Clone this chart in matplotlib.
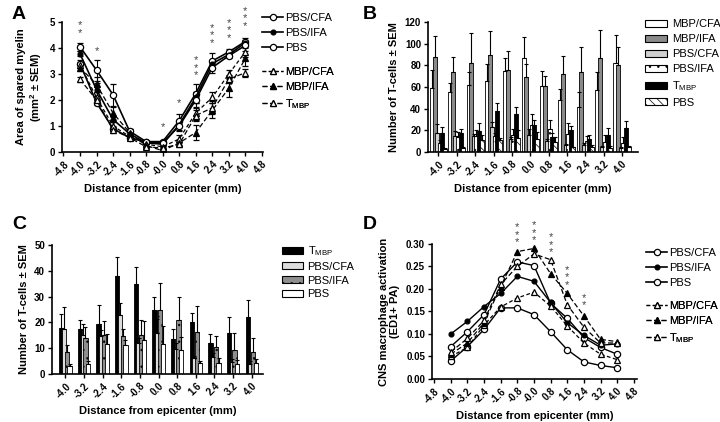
import numpy as np
import matplotlib
matplotlib.use('Agg')
import matplotlib.pyplot as plt
from matplotlib.lines import Line2D
from matplotlib.patches import Patch

plt.rcParams['font.family'] = ['Liberation Sans', 'DejaVu Sans']
plt.rcParams['mathtext.fontset'] = 'custom'
plt.rcParams['mathtext.rm'] = 'Liberation Sans'
plt.rcParams['mathtext.bf'] = 'Liberation Sans:bold'
plt.rcParams['hatch.linewidth'] = 0.5

# distances along the cord (mm)
distance = [-4.0, -3.2, -2.4, -1.6, -0.8, 0.0, 0.8, 1.6, 2.4, 3.2, 4.0]
bar_labels = ['-4.0', '-3.2', '-2.4', '-1.6', '-0.8', '0.0', '0.8', '1.6', '2.4', '3.2', '4.0']
line_ticks = [-4.8, -4.0, -3.2, -2.4, -1.6, -0.8, 0.0, 0.8, 1.6, 2.4, 3.2, 4.0, 4.8]
line_labels = ['-4.8', '-4.0', '-3.2', '-2.4', '-1.6', '-0.8', '-0.0', '0.8', '1.6', '2.4', '3.2', '4.0', '4.8']

# A: spared myelin (mm2)
my_pbs_cfa = [4.05, 3.15, 2.2, 0.8, 0.4, 0.4, 1.2, 2.25, 3.5, 3.85, 4.25]
my_pbs_cfa_err = [0.15, 0.4, 0.42, 0.1, 0.05, 0.05, 0.25, 0.35, 0.3, 0.1, 0.15]
my_pbs_ifa = [3.78, 2.4, 1.25, 0.7, 0.35, 0.3, 1.05, 2.1, 3.4, 3.75, 4.2]
my_pbs_ifa_err = [0.1, 0.25, 0.1, 0.1, 0.05, 0.05, 0.2, 0.2, 0.15, 0.1, 0.1]
my_pbs = [3.4, 1.9, 0.9, 0.55, 0.38, 0.35, 1.0, 2.0, 3.25, 3.7, 4.1]
my_pbs_err = [0.15, 0.1, 0.1, 0.08, 0.05, 0.05, 0.2, 0.3, 0.2, 0.1, 0.1]
my_mbp_cfa = [3.35, 2.1, 1.0, 0.6, 0.3, 0.2, 0.5, 1.5, 2.1, 3.0, 3.85]
my_mbp_cfa_err = [0.1, 0.2, 0.2, 0.1, 0.05, 0.05, 0.15, 0.25, 0.2, 0.15, 0.2]
my_mbp_ifa = [3.25, 2.6, 1.5, 0.75, 0.25, 0.05, 0.35, 0.75, 1.6, 2.45, 3.6]
my_mbp_ifa_err = [0.15, 0.3, 0.25, 0.15, 0.05, 0.05, 0.1, 0.3, 0.3, 0.35, 0.3]
my_tmbp = [2.8, 2.0, 0.85, 0.55, 0.2, 0.15, 0.3, 1.4, 1.7, 2.8, 3.05]
my_tmbp_err = [0.1, 0.15, 0.1, 0.1, 0.05, 0.05, 0.1, 0.2, 0.25, 0.15, 0.15]
a_star_x = [-4.0, -3.2, 0.0, 0.8, 1.6, 2.4, 3.2, 4.0]
a_star_n = [2, 1, 1, 1, 3, 3, 3, 3]
a_star_y = [4.4, 3.7, 0.75, 1.7, 2.75, 4.0, 4.2, 4.65]

# B/C: T-cell counts
tc_mbp_cfa = [59, 55, 62, 66, 75, 87, 61, 48, 42, 57, 82]
tc_mbp_cfa_err = [17, 9, 12, 15, 12, 19, 14, 10, 13, 17, 26]
tc_mbp_ifa = [88, 73.5, 82, 90, 76, 69, 61, 72, 74, 87, 80]
tc_mbp_ifa_err = [19, 14.5, 28, 22, 17, 12, 9, 17, 23, 26, 17]
tc_tmbp = [18, 17.3, 19.4, 38, 35, 24.7, 13.7, 20.2, 12, 15.9, 22.2]
tc_tmbp_err = [5.3, 3.7, 7.2, 7.3, 6.5, 5, 3.8, 3.5, 3.5, 6.3, 6.3]
tc_pbs_cfa = [17.5, 15, 14.8, 22.8, 12, 16, 9.8, 6.3, 6.5, 4.5, 4]
tc_pbs_cfa_err = [8.5, 4.5, 2.2, 4.7, 2, 5.3, 2.2, 0.7, 1.5, 1.3, 1]
tc_pbs_ifa = [8.5, 14, 15, 14.7, 15.3, 25, 21, 16.3, 10.5, 9.5, 8.5]
tc_pbs_ifa_err = [2.8, 4.2, 5.5, 2.9, 5.7, 10.3, 9, 10.1, 4.3, 6.4, 5.5]
tc_pbs = [3, 3.7, 11.5, 11.3, 13.3, 11.7, 9.3, 4.3, 4.2, 3.7, 4.3]
tc_pbs_err = [1, 1.3, 4, 1.7, 7.2, 6.9, 5, 0.7, 2, 1.9, 1.7]

# D: macrophage activation
ma_pbs_cfa = [0.072, 0.105, 0.143, 0.222, 0.26, 0.252, 0.168, 0.135, 0.092, 0.07, 0.055]
ma_pbs_ifa = [0.10, 0.128, 0.161, 0.19, 0.228, 0.217, 0.17, 0.125, 0.097, 0.075, 0.078]
ma_pbs = [0.04, 0.072, 0.11, 0.158, 0.158, 0.143, 0.105, 0.065, 0.038, 0.03, 0.025]
ma_mbp_cfa = [0.05, 0.07, 0.12, 0.16, 0.18, 0.193, 0.162, 0.118, 0.08, 0.055, 0.043]
ma_mbp_ifa = [0.055, 0.08, 0.125, 0.205, 0.283, 0.29, 0.234, 0.19, 0.14, 0.088, 0.083]
ma_tmbp = [0.06, 0.09, 0.13, 0.21, 0.25, 0.278, 0.265, 0.165, 0.115, 0.08, 0.08]
d_star_x = [-0.8, 0.0, 0.8, 1.6, 2.4]
d_star_n = [3, 3, 3, 3, 2]
d_star_y = [0.292, 0.297, 0.27, 0.198, 0.152]

TMBP = 'T$_{\\mathrm{MBP}}$'

line_styles = {
    'PBS/CFA': dict(ls='-', marker='o', mfc='white', ms=4.5),
    'PBS/IFA': dict(ls='-', marker='o', mfc='black', ms=3.5),
    'PBS': dict(ls='-', marker='o', mfc='white', ms=4.5),
    'MBP/CFA': dict(ls=(0, (3, 2)), marker='^', mfc='white', ms=5),
    'MBP/IFA': dict(ls=(0, (4, 2)), marker='^', mfc='black', ms=4),
    TMBP: dict(ls=(0, (4, 2)), marker='^', mfc='white', ms=5),
}

fig = plt.figure(figsize=(7.2, 4.22), dpi=100)
axA = fig.add_axes([0.0861, 0.6398, 0.279, 0.308])
axB = fig.add_axes([0.5944, 0.6398, 0.2917, 0.308])
axC = fig.add_axes([0.0722, 0.1137, 0.293, 0.3057])
axD = fig.add_axes([0.600, 0.1019, 0.2847, 0.320])


def style(ax):
    for s in ['top', 'right']:
        ax.spines[s].set_visible(False)
    for s in ['left', 'bottom']:
        ax.spines[s].set_linewidth(1.2)
    ax.tick_params(direction='out', length=3, width=1, labelsize=7, pad=2)
    for lab in ax.get_xticklabels() + ax.get_yticklabels():
        lab.set_fontweight('bold')
    for lab in ax.get_xticklabels():
        lab.set_rotation(45)
        lab.set_ha('right')
        lab.set_rotation_mode('anchor')
    ax.set_xlabel('Distance from epicenter (mm)', fontsize=8, fontweight='bold')


def stars(ax, xs, ns, ys):
    for x, n, y in zip(xs, ns, ys):
        ax.text(x, y, '\n'.join(['*'] * n), ha='center', va='bottom', fontsize=8,
                color='#444444', linespacing=0.7, clip_on=False)


# ---- A
a_series = [('PBS/CFA', my_pbs_cfa, my_pbs_cfa_err), ('PBS/IFA', my_pbs_ifa, my_pbs_ifa_err),
            ('PBS', my_pbs, my_pbs_err), ('MBP/CFA', my_mbp_cfa, my_mbp_cfa_err),
            ('MBP/IFA', my_mbp_ifa, my_mbp_ifa_err), (TMBP, my_tmbp, my_tmbp_err)]
for name, y, e in a_series:
    st = line_styles[name]
    lw = 1.2 if st['ls'] == '-' else 0.9
    axA.errorbar(distance, y, yerr=e, color='black', lw=lw, ls=st['ls'], marker=st['marker'],
                 mfc=st['mfc'], mec='black', ms=st['ms'], mew=0.9, capsize=2, elinewidth=0.8,
                 capthick=0.8)
axA.set_xlim(-4.87, 4.85)
axA.set_ylim(0, 5)
axA.set_xticks(line_ticks)
axA.set_xticklabels(line_labels)
axA.set_yticks([0, 1, 2, 3, 4, 5])
axA.set_ylabel('Area of spared myelin\n(mm$^\\mathbf{2}$ ± SEM)', fontsize=8, fontweight='bold')
style(axA)
stars(axA, a_star_x, a_star_n, a_star_y)


def line_handles(names):
    hs = []
    for n in names:
        st = line_styles[n]
        lw = 1.2 if st['ls'] == '-' else 0.9
        hs.append(Line2D([], [], color='black', lw=lw, ls=st['ls'], marker=st['marker'],
                         mfc=st['mfc'], mec='black', ms=st['ms'], mew=0.9))
    return hs


def line_legend(ax, names, x, y):
    leg = ax.legend(line_handles(names), names, loc='upper left', bbox_to_anchor=(x, y),
                    bbox_transform=fig.transFigure, frameon=False, fontsize=8, handlelength=1.9,
                    handletextpad=0.2, labelspacing=0.45, borderpad=0, borderaxespad=0)
    ax.add_artist(leg)


line_legend(axA, ['PBS/CFA', 'PBS/IFA', 'PBS'], 262 / 720, 1 - 13 / 422)
line_legend(axA, ['MBP/CFA', 'MBP/IFA', TMBP], 262 / 720, 1 - 67 / 422)

# ---- B
pos = np.arange(len(distance))
b_series = [('MBP/CFA', tc_mbp_cfa, tc_mbp_cfa_err, dict(color='white')),
            ('MBP/IFA', tc_mbp_ifa, tc_mbp_ifa_err, dict(color='#8a8a8a')),
            ('PBS/CFA', tc_pbs_cfa, tc_pbs_cfa_err, dict(color='#cfcfcf')),
            ('PBS/IFA', tc_pbs_ifa, tc_pbs_ifa_err, dict(color='white', hatch='..')),
            (TMBP, tc_tmbp, tc_tmbp_err, dict(color='black')),
            ('PBS', tc_pbs, tc_pbs_err, dict(color='white', hatch='\\\\\\\\'))]
step, width = 0.142, 0.22
b_handles = []
for k, (name, v, e, kw) in enumerate(b_series):
    off = (k - (len(b_series) - 1) / 2) * step
    axB.bar(pos + off, v, width, yerr=[np.zeros(len(v)), e], edgecolor='black', linewidth=0.6,
            error_kw=dict(elinewidth=0.8, capsize=1.2, capthick=0.8, ecolor='black'), **kw)
    b_handles.append(Patch(facecolor=kw['color'], edgecolor='black', linewidth=0.8,
                           hatch=kw.get('hatch')))
axB.set_xlim(-0.57, 10.87)
axB.set_ylim(0, 120)
axB.set_yticks(range(0, 121, 20))
axB.set_xticks(pos)
axB.set_xticklabels(bar_labels)
axB.set_ylabel('Number of T-cells ± SEM', fontsize=8, fontweight='bold')
style(axB)
axB.legend(b_handles, [s[0] for s in b_series], loc='upper left', bbox_to_anchor=(645 / 720, 1 - 19 / 422),
           bbox_transform=fig.transFigure, frameon=False, fontsize=8, handlelength=2.0,
           handleheight=0.6, handletextpad=0.4, labelspacing=0.45, borderpad=0, borderaxespad=0)

# ---- C
c_series = [(TMBP, tc_tmbp, tc_tmbp_err, dict(color='black')),
            ('PBS/CFA', tc_pbs_cfa, tc_pbs_cfa_err, dict(color='#dcdcdc')),
            ('PBS/IFA', tc_pbs_ifa, tc_pbs_ifa_err, dict(color='#8e8e8e', hatch='..')),
            ('PBS', tc_pbs, tc_pbs_err, dict(color='white'))]
step, width = 0.147, 0.23
c_handles = []
for k, (name, v, e, kw) in enumerate(c_series):
    off = (k - (len(c_series) - 1) / 2) * step
    axC.bar(pos + off, v, width, yerr=[np.zeros(len(v)), e], edgecolor='black', linewidth=0.6,
            error_kw=dict(elinewidth=0.8, capsize=1.2, capthick=0.8, ecolor='black'), **kw)
    c_handles.append(Patch(facecolor=kw['color'], edgecolor='black', linewidth=0.8,
                           hatch=kw.get('hatch')))
axC.set_xlim(-0.72, 10.6)
axC.set_ylim(0, 50)
axC.set_yticks(range(0, 51, 10))
axC.set_xticks(pos)
axC.set_xticklabels(bar_labels)
axC.set_ylabel('Number of T-cells ± SEM', fontsize=8, fontweight='bold')
style(axC)
axC.legend(c_handles, [s[0] for s in c_series], loc='upper left', bbox_to_anchor=(282 / 720, 1 - 244 / 422),
           bbox_transform=fig.transFigure, frameon=False, fontsize=8, handlelength=1.9,
           handleheight=0.6, handletextpad=0.4, labelspacing=0.35, borderpad=0, borderaxespad=0)

# ---- D
d_series = [('PBS/CFA', ma_pbs_cfa), ('PBS/IFA', ma_pbs_ifa), ('PBS', ma_pbs),
            ('MBP/CFA', ma_mbp_cfa), ('MBP/IFA', ma_mbp_ifa), (TMBP, ma_tmbp)]
for name, y in d_series:
    st = line_styles[name]
    lw = 1.0 if st['ls'] == '-' else 0.9
    axD.plot(distance, y, color='black', lw=lw, ls=st['ls'], marker=st['marker'],
             mfc=st['mfc'], mec='black', ms=st['ms'], mew=0.9)
axD.set_xlim(-4.9, 4.95)
axD.set_ylim(0, 0.30)
axD.set_xticks(line_ticks)
axD.set_xticklabels(line_labels)
axD.set_yticks([0, 0.05, 0.10, 0.15, 0.20, 0.25, 0.30])
axD.set_yticklabels(['0.00', '0.05', '0.10', '0.15', '0.20', '0.25', '0.30'])
axD.set_ylabel('CNS macrophage activation\n(ED1+ PA)', fontsize=8, fontweight='bold')
style(axD)
stars(axD, d_star_x, d_star_n, d_star_y)
line_legend(axD, ['PBS/CFA', 'PBS/IFA', 'PBS'], 646 / 720, 1 - 248 / 422)
line_legend(axD, ['MBP/CFA', 'MBP/IFA', TMBP], 646 / 720, 1 - 301 / 422)

for lab, x, y in [('A', 12, 6), ('B', 363, 6), ('C', 12, 216), ('D', 363, 216)]:
    fig.text(x / 720, 1 - y / 422, lab, fontsize=14, fontweight='bold', va='top', ha='left')

fig.savefig('out.png', dpi=100)
